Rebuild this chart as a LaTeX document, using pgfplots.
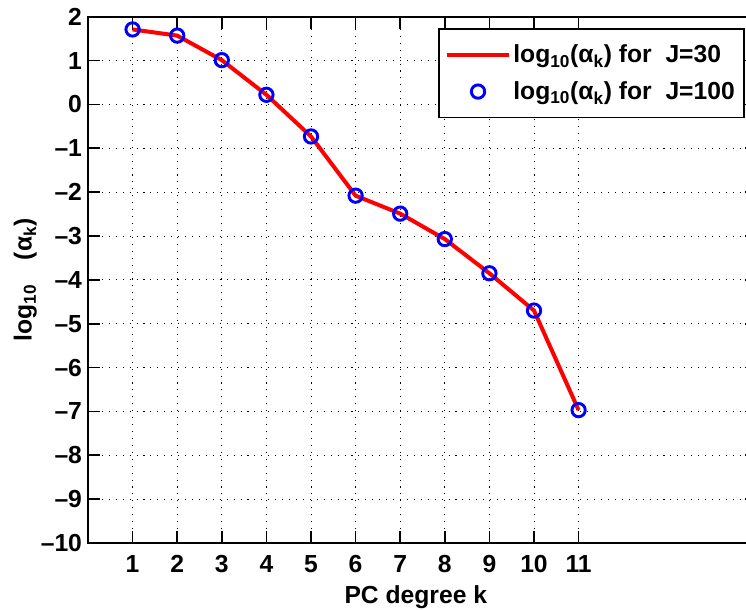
\documentclass[border=0pt]{standalone}
\usepackage{pgfplots}
\pgfplotsset{compat=1.18}
\usepackage{fontspec}
\setmainfont{Liberation Sans}
\newcommand{\ff}{\fontsize{18.5}{22}\selectfont\bfseries}
\begin{document}
\begin{tikzpicture}
\begin{axis}[
  at={(0,0)}, anchor=south west,
  scale only axis, width=501.75pt, height=394.7pt,
  xmin=0, xmax=15, ymin=-10, ymax=2,
  xtick={1,2,3,4,5,6,7,8,9,10,11},
  xticklabels={1,2,3,4,5,6,7,8,9,10,11},
  ytick={-10,-9,-8,-7,-6,-5,-4,-3,-2,-1,0,1,2},
  yticklabels={--10,--9,--8,--7,--6,--5,--4,--3,--2,--1,0,1,2},
  tick align=inside, major tick length=9pt,
  tick style={black, line width=1.2pt},
  axis line style={line width=1.5pt},
  grid=major, grid style={black, line width=0.7pt, dash pattern=on 0.8pt off 4.4pt},
  font=\ff,
  ticklabel style={font=\ff},
  xticklabel style={yshift=-6pt},
  yticklabel style={xshift=-1pt},
  xlabel={PC degree k},
  ylabel={log\textsubscript{10}\quad(α\textsubscript{k})},
  xlabel style={font=\ff, at={(axis description cs:0.49,-0.1026)}, anchor=center},
  ylabel style={font=\ff, at={(axis description cs:-0.0937,0.5)}, anchor=center},
  legend style={at={(0.982,0.978)}, anchor=north east, draw=black, line width=1.2pt,
    font=\ff, inner xsep=5pt, inner ysep=10pt,
    row sep=8.5pt},
  legend cell align=left,
  legend image code/.code={\draw[mark repeat=2,mark phase=2,#1] plot coordinates {(0pt,0pt) (23pt,0pt) (46pt,0pt)};},
]
\addplot[red, line width=3pt, mark=none] coordinates {
(1,1.71) (2,1.57) (3,1.01) (4,0.22) (5,-0.73) (6,-2.08) (7,-2.49) (8,-3.07) (9,-3.85) (10,-4.70) (11,-6.97)
};
\addlegendentry{log\textsubscript{10}(α\textsubscript{k}) for\ \ J=30}
\addplot[only marks, mark=o, mark size=5pt, blue, line width=2.2pt] coordinates {
(1,1.71) (2,1.57) (3,1.01) (4,0.22) (5,-0.73) (6,-2.08) (7,-2.49) (8,-3.07) (9,-3.85) (10,-4.70) (11,-6.97)
};
\addlegendentry{log\textsubscript{10}(α\textsubscript{k}) for\ \ J=100}
\end{axis}
\pgfresetboundingbox
\useasboundingbox (-66pt,-50.25pt) rectangle (493.5pt,407.25pt);
\end{tikzpicture}
\end{document}
